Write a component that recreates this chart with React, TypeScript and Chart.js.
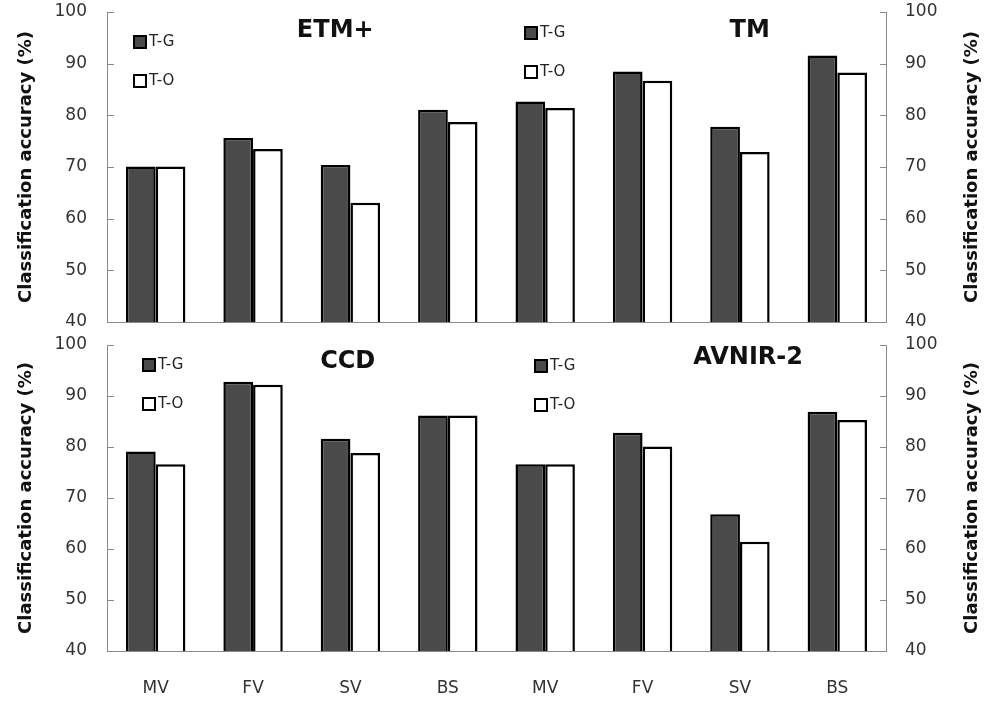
import React, { useEffect, useRef } from "react";
import { Chart, registerables } from "chart.js";

Chart.register(...registerables);

// ---- data ----
const categories = ["MV", "FV", "SV", "BS", "MV", "FV", "SV", "BS"];
const seriesNames = ["T-G", "T-O"];
const topTG = [70.1, 75.6, 70.4, 81.1, 82.7, 88.5, 77.8, 91.6];
const topTO = [70.1, 73.5, 63.1, 78.7, 81.4, 86.7, 72.9, 88.3];
const bottomTG = [79.1, 92.8, 81.6, 86.2, 76.6, 82.8, 66.8, 86.9];
const bottomTO = [76.6, 92.2, 78.8, 86.2, 76.6, 80.1, 61.4, 85.3];
const topTitles = ["ETM+", "TM"];
const bottomTitles = ["CCD", "AVNIR-2"];
const yMin = 40;
const yMax = 100;
const yStep = 10;
const yAxisTitle = "Classification accuracy (%)";

const FONT = "'DejaVu Sans', Verdana, sans-serif";
const DARK = "#4a4a4a";
const AXIS = "#8a8a8a";

type TitleSpec = { text: string; fx: number; cy: number };
type LegendSpec = { dx: number; dy: number };

function makeDecor(titles: TitleSpec[], legends: LegendSpec[]) {
  return {
    id: "panelDecor",
    afterDraw(chart: any) {
      const { ctx, chartArea } = chart;
      const w = chartArea.right - chartArea.left;
      ctx.save();
      // inward tick marks on both value axes
      ctx.strokeStyle = AXIS;
      ctx.lineWidth = 1;
      (["y", "y2"] as const).forEach((id) => {
        const sc = chart.scales[id];
        if (!sc) return;
        const isLeft = sc.position === "left";
        const x0 = isLeft ? chartArea.left : chartArea.right;
        const len = isLeft ? 7 : -6;
        sc.ticks.forEach((t: any) => {
          const py = Math.round(sc.getPixelForValue(t.value)) + 0.5;
          ctx.beginPath();
          ctx.moveTo(x0, py);
          ctx.lineTo(x0 + len, py);
          ctx.stroke();
        });
      });
      // right axis title, reading bottom-to-top like the left one
      const r = chart.scales.y2;
      if (r) {
        ctx.save();
        ctx.fillStyle = "#111";
        ctx.font = `bold 18px ${FONT}`;
        ctx.textAlign = "center";
        ctx.textBaseline = "middle";
        ctx.translate(r.right - 28, (chartArea.top + chartArea.bottom) / 2);
        ctx.rotate(-Math.PI / 2);
        ctx.fillText(yAxisTitle, 0, 0);
        ctx.restore();
      }
      // titles
      ctx.fillStyle = "#111";
      ctx.font = `bold 24px ${FONT}`;
      ctx.textAlign = "center";
      ctx.textBaseline = "middle";
      titles.forEach((t) => {
        ctx.fillText(t.text, chartArea.left + w * t.fx, chartArea.top + t.cy);
      });
      // legends
      const fills = [DARK, "#ffffff"];
      ctx.font = `15px ${FONT}`;
      ctx.textAlign = "left";
      legends.forEach((lg) => {
        seriesNames.forEach((name, i) => {
          const x = chartArea.left + lg.dx;
          const y = chartArea.top + lg.dy + i * 39;
          ctx.fillStyle = fills[i];
          ctx.fillRect(x, y, 12, 12);
          ctx.lineWidth = 2;
          ctx.strokeStyle = "#000";
          ctx.strokeRect(x, y, 12, 12);
          ctx.fillStyle = "#222";
          ctx.fillText(name, x + 15, y + 6.5);
        });
      });
      ctx.restore();
    },
  };
}

function buildConfig(
  tg: number[],
  to: number[],
  showX: boolean,
  xHeight: number,
  padTop: number,
  decor: any
): any {
  const yCommon = (
    position: "left" | "right",
    width: number,
    pad: number,
    showTitle: boolean
  ) => ({
    type: "linear",
    position,
    min: yMin,
    max: yMax,
    ticks: {
      stepSize: yStep,
      color: "#333",
      padding: pad,
      font: { family: FONT, size: 17 },
    },
    grid: {
      display: false,
      drawOnChartArea: false,
      drawTicks: false,
    },
    border: { display: true, color: AXIS, width: 1 },
    title: {
      display: showTitle,
      text: yAxisTitle,
      color: "#111",
      font: { family: FONT, size: 18, weight: "bold" },
      padding: { top: 16, bottom: 0 },
    },
    afterFit: (s: any) => {
      s.width = width;
      s.paddingTop = 0;
      s.paddingBottom = 0;
    },
  });
  return {
    type: "bar",
    data: {
      labels: categories,
      datasets: [
        {
          label: seriesNames[0],
          data: tg,
          backgroundColor: DARK,
          borderColor: "#000",
          borderWidth: 2.5,
          borderSkipped: false,
          yAxisID: "y",
        },
        {
          label: seriesNames[1],
          data: to,
          backgroundColor: "#ffffff",
          borderColor: "#000",
          borderWidth: 2.5,
          borderSkipped: false,
          yAxisID: "y",
        },
      ],
    },
    options: {
      animation: false,
      responsive: true,
      maintainAspectRatio: false,
      layout: { padding: { top: padTop, left: 0, right: 0, bottom: 0 } },
      datasets: { bar: { categoryPercentage: 0.61, barPercentage: 1.0 } },
      plugins: { legend: { display: false }, tooltip: { enabled: false } },
      scales: {
        x: {
          ticks: {
            display: showX,
            color: "#333",
            padding: 27,
            font: { family: FONT, size: 17 },
          },
          grid: { display: false, drawTicks: false },
          border: { display: true, color: AXIS, width: 1 },
          afterFit: (s: any) => {
            s.height = xHeight;
            s.paddingLeft = 0;
            s.paddingRight = 0;
          },
        },
        y: yCommon("left", 107, 20, true),
        y2: yCommon("right", 114, 19, false),
      },
    },
    plugins: [decor],
  };
}

function Panel({ cfg }: { cfg: any }) {
  const ref = useRef<HTMLCanvasElement | null>(null);
  useEffect(() => {
    if (!ref.current) return;
    const chart = new Chart(ref.current, cfg);
    return () => chart.destroy();
  }, [cfg]);
  return <canvas ref={ref} />;
}

const topCfg = buildConfig(
  topTG,
  topTO,
  false,
  18,
  12,
  makeDecor(
    [
      { text: topTitles[0], fx: 0.293, cy: 19 },
      { text: topTitles[1], fx: 0.825, cy: 19 },
    ],
    [
      { dx: 27, dy: 24 },
      { dx: 418, dy: 15 },
    ]
  )
);

const bottomCfg = buildConfig(
  bottomTG,
  bottomTO,
  true,
  57,
  15,
  makeDecor(
    [
      { text: bottomTitles[0], fx: 0.309, cy: 17 },
      { text: bottomTitles[1], fx: 0.823, cy: 13 },
    ],
    [
      { dx: 36, dy: 14 },
      { dx: 428, dy: 15 },
    ]
  )
);

export default function App() {
  return (
    <div
      style={{
        position: "fixed",
        left: 0,
        top: 0,
        width: 1000,
        height: 708,
        background: "#fff",
      }}
    >
      <div style={{ position: "absolute", left: 0, top: 0, width: 1000, height: 340 }}>
        <Panel cfg={topCfg} />
      </div>
      <div style={{ position: "absolute", left: 0, top: 330, width: 1000, height: 378 }}>
        <Panel cfg={bottomCfg} />
      </div>
    </div>
  );
}
